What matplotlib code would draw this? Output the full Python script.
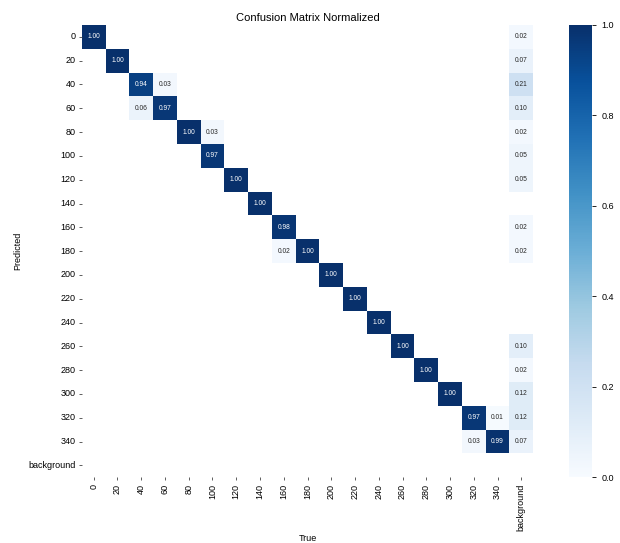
import numpy as np
import matplotlib
matplotlib.use('Agg')
import matplotlib.pyplot as plt
import seaborn as sns

plt.rcParams['font.family'] = ['Liberation Sans', 'DejaVu Sans']

labels = [str(v) for v in range(0, 360, 20)] + ['background']

# (predicted row, true column, value); everything else is empty
diag = [1.00, 1.00, 0.94, 0.97, 1.00, 0.97, 1.00, 1.00, 0.98,
        1.00, 1.00, 1.00, 1.00, 1.00, 1.00, 1.00, 0.97, 0.99]
off_diag = [(2, 3, 0.03), (3, 2, 0.06), (4, 5, 0.03), (9, 8, 0.02),
            (16, 17, 0.01), (17, 16, 0.03)]
bg_col = [0.02, 0.07, 0.21, 0.10, 0.02, 0.05, 0.05, 0.00, 0.02,
          0.02, 0.00, 0.00, 0.00, 0.10, 0.02, 0.12, 0.12, 0.07, 0.00]

n = len(labels)
cm = np.zeros((n, n))
for i, v in enumerate(diag):
    cm[i, i] = v
for r, c, v in off_diag:
    cm[r, c] = v
cm[:, -1] = bg_col
cm[cm < 0.005] = np.nan

fig = plt.figure(figsize=(6.2, 5.43), dpi=100)
ax = fig.add_axes([0.132, 0.121, 0.728, 0.833])
cax = fig.add_axes([0.918, 0.121, 0.037, 0.833])

sns.heatmap(cm, ax=ax, cbar_ax=cax, annot=True, fmt='.2f', cmap='Blues',
            vmin=0.0, vmax=1.0, annot_kws={'size': 4.8},
            xticklabels=labels, yticklabels=labels)

ax.set_title('Confusion Matrix Normalized', fontsize=8, pad=3)
ax.set_xlabel('True', fontsize=6.5, labelpad=2)
ax.set_ylabel('Predicted', fontsize=6.5)
ax.tick_params(axis='both', labelsize=6.5, length=2.5, width=0.6,
               color='#444444', pad=2)
plt.setp(ax.get_xticklabels(), rotation=90)
plt.setp(ax.get_yticklabels(), rotation=0)

cax.tick_params(labelsize=6.5, length=3, width=0.6)
cax.set_yticks([0.0, 0.2, 0.4, 0.6, 0.8, 1.0])
cax.set_yticklabels(['0.0', '0.2', '0.4', '0.6', '0.8', '1.0'])

fig.savefig('out.png', dpi=100)
